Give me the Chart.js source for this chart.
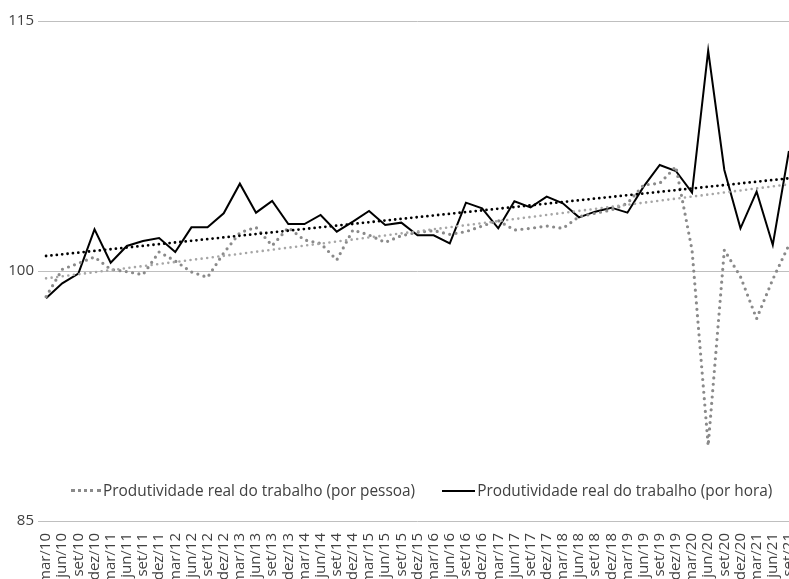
<!DOCTYPE html>
<html>
<head>
<meta charset="utf-8">
<script src="https://cdn.jsdelivr.net/npm/chart.js@4/dist/chart.umd.min.js"></script>
<style>
  html, body { margin: 0; padding: 0; background: #fff; overflow: hidden; }
  #wrap { position: relative; width: 797px; height: 640px; }
  #legenda {
    position: absolute; top: 480px; left: 71px;
    font: 15.4px "Open Sans", sans-serif; color: #404040;
    display: flex; align-items: center; white-space: nowrap;
  }
  .item { display: flex; align-items: center; margin-right: 27px; }
  .amostra { display: inline-block; margin-right: 2px; }
</style>
</head>
<body>
<div id="wrap">
  <canvas id="grafico"></canvas>
  <div id="legenda"></div>
</div>
<script>
// trimestres mar/10 .. set/21
const rotulos = [
  'mar/10', 'jun/10', 'set/10', 'dez/10',
  'mar/11', 'jun/11', 'set/11', 'dez/11',
  'mar/12', 'jun/12', 'set/12', 'dez/12',
  'mar/13', 'jun/13', 'set/13', 'dez/13',
  'mar/14', 'jun/14', 'set/14', 'dez/14',
  'mar/15', 'jun/15', 'set/15', 'dez/15',
  'mar/16', 'jun/16', 'set/16', 'dez/16',
  'mar/17', 'jun/17', 'set/17', 'dez/17',
  'mar/18', 'jun/18', 'set/18', 'dez/18',
  'mar/19', 'jun/19', 'set/19', 'dez/19',
  'mar/20', 'jun/20', 'set/20', 'dez/20',
  'mar/21', 'jun/21', 'set/21'
]

const porPessoa = [
  98.46, 100.1, 100.46, 100.84, 100.1, 99.96, 99.78, 101.14,
  100.6, 99.94, 99.62, 101.08, 102.3, 102.62, 101.52, 102.6,
  101.86, 101.66, 100.66, 102.46, 102.16, 101.72, 102.12, 102.32,
  102.42, 102.2, 102.36, 102.7, 103.02, 102.46, 102.56, 102.7,
  102.56, 103.26, 103.46, 103.66, 104.06, 105.16, 105.26, 106.26,
  101.26, 89.52, 101.26, 99.66, 97.14, 99.5, 101.56
]

const porHora = [
  98.36, 99.26, 99.84, 102.5, 100.5, 101.5, 101.8, 101.98,
  101.14, 102.62, 102.62, 103.46, 105.24, 103.5, 104.2, 102.82,
  102.82, 103.36, 102.36, 102.96, 103.6, 102.76, 102.9, 102.14,
  102.14, 101.66, 104.1, 103.76, 102.56, 104.18, 103.82, 104.46,
  104.06, 103.22, 103.56, 103.8, 103.5, 105.06, 106.36, 106.0,
  104.7, 113.22, 106.06, 102.56, 104.76, 101.56, 107.2
]

// linhas de tendencia: valor no primeiro e no ultimo trimestre
const tendPessoa = [99.56, 105.2]
const tendHora = [100.9, 105.56]

const yTicks = [85, 100, 115]

function linhaTendencia(ends) {
  return rotulos.map((r, i) => i === 0 ? ends[0] : (i === rotulos.length - 1 ? ends[1] : null))
}

const ctx = document.getElementById('grafico')
const chart = new Chart(ctx, {
  type: 'line',
  data: {
    labels: rotulos,
    datasets: [
      {
        label: 'Tendência (por pessoa)',
        data: linhaTendencia(tendPessoa),
        spanGaps: true,
        borderColor: '#a6a6a6',
        borderWidth: 2.6,
        borderDash: [0, 5.6],
        borderCapStyle: 'round',
        pointRadius: 0
      },
      {
        label: 'Tendência (por hora)',
        data: linhaTendencia(tendHora),
        spanGaps: true,
        borderColor: '#000000',
        borderWidth: 2.8,
        borderDash: [0, 5.4],
        borderCapStyle: 'round',
        pointRadius: 0
      },
      {
        label: 'Produtividade real do trabalho (por pessoa)',
        data: porPessoa,
        borderColor: '#8a8a8a',
        borderWidth: 3.2,
        borderDash: [0, 6.4],
        borderCapStyle: 'round',
        pointRadius: 0,
        tension: 0
      },
      {
        label: 'Produtividade real do trabalho (por hora)',
        data: porHora,
        borderColor: '#000000',
        borderWidth: 2,
        pointRadius: 0,
        tension: 0
      }
    ]
  },
  options: {
    responsive: true,
    maintainAspectRatio: false,
    animation: false,
    layout: { padding: { top: 21, left: 0, right: 0, bottom: 0 } },
    plugins: {
      legend: { display: false },
      tooltip: { enabled: false }
    },
    scales: {
      y: {
        min: 85,
        max: 115,
        afterBuildTicks: (s) => { s.ticks = yTicks.map(v => ({ value: v })) },
        afterFit: (s) => { s.width = 38; s.paddingTop = 0; s.paddingBottom = 0 },
        border: { display: false },
        grid: { color: '#bfbfbf', lineWidth: 1, drawTicks: false },
        ticks: {
          padding: 4,
          color: '#404040',
          font: { family: 'Open Sans', size: 15 }
        }
      },
      x: {
        offset: true,
        afterFit: (s) => { s.height = 119; s.paddingLeft = 0; s.paddingRight = 0 },
        border: { display: false },
        grid: { display: false },
        ticks: {
          autoSkip: false,
          minRotation: 90,
          maxRotation: 90,
          padding: 4,
          color: '#404040',
          font: { family: 'Open Sans', size: 15 }
        }
      }
    }
  }
})

// legenda das duas series
const leg = document.getElementById('legenda')
chart.data.datasets.slice(2).forEach(ds => {
  const item = document.createElement('span')
  item.className = 'item'
  const am = document.createElement('span')
  am.className = 'amostra'
  if (ds.borderDash) {
    am.style.width = '30px'
    am.style.borderTop = '3px dotted ' + ds.borderColor
  } else {
    am.style.width = '33px'
    am.style.borderTop = '2px solid ' + ds.borderColor
  }
  item.appendChild(am)
  item.appendChild(document.createTextNode(ds.label))
  leg.appendChild(item)
})
</script>
</body>
</html>
